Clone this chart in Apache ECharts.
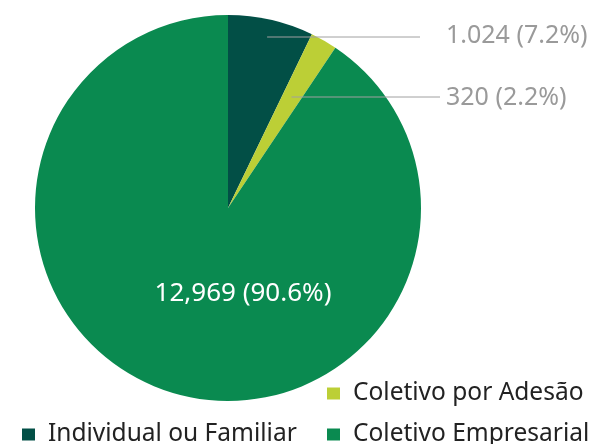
<!DOCTYPE html>
<html>
<head>
    <meta charset="utf-8">
    <script src="https://cdn.jsdelivr.net/npm/echarts@6/dist/echarts.min.js"></script>
</head>
<body style="margin:0">
    <div id="main" style="width:598px; height:444px"></div>
    <script type="text/javascript">
        // data
        var categories = ['Individual ou Familiar', 'Coletivo por Adesão', 'Coletivo Empresarial'];
        var values = [1024, 320, 12969];
        var valueText = ['1.024', '320', '12,969'];
        var colors = ['#024f46', '#bccf36', '#0a8a50'];

        var cx = 228, cy = 208, radius = 193;
        var font = 'Noto Sans';
        var total = values.reduce(function (a, b) { return a + b; }, 0);

        // mid angle of each slice, clockwise from the top
        var midAngle = [];
        var cum = 0;
        for (var i = 0; i < values.length; i++) {
            midAngle.push((cum + values[i] / 2) / total * 2 * Math.PI);
            cum += values[i];
        }

        // label placement: y of the leader line, y of the text, where the line ends
        var lineY = [37, 97];
        var textY = [36, 98, 294];
        var lineEnd = [420, 440];

        var myChart = echarts.init(document.getElementById('main'));

        function legendAt(name, left, top) {
            return {
                data: [name],
                left: left,
                top: top,
                icon: 'rect',
                itemWidth: 13,
                itemHeight: 12,
                padding: 0,
                selectedMode: false,
                textStyle: {
                    fontFamily: font,
                    fontSize: 24.5,
                    color: '#222',
                    padding: [0, 0, 0, 8]
                }
            };
        }

        var pieData = categories.map(function (c, i) {
            var inside = i === 2;
            return {
                name: c,
                value: values[i],
                label: {
                    position: inside ? 'inside' : 'outside',
                    color: inside ? '#fff' : '#9a9a9a',
                    fontSize: inside ? 26 : 25
                },
                labelLine: { show: !inside }
            };
        });

        var option = {
            animation: false,
            color: colors,
            legend: [
                legendAt(categories[1], 327, 381),
                legendAt(categories[0], 22, 422),
                legendAt(categories[2], 327, 422)
            ],
            series: [{
                // the slices
                type: 'pie',
                center: [cx, cy],
                radius: radius,
                startAngle: 90,
                label: { show: false },
                labelLine: { show: false },
                data: pieData.map(function (d) { return { name: d.name, value: d.value }; })
            }, {
                // same slices again, invisible, so the leader lines sit on top
                type: 'pie',
                z: 3,
                center: [cx, cy],
                radius: radius,
                startAngle: 90,
                silent: true,
                itemStyle: { color: 'rgba(0,0,0,0)' },
                data: pieData,
                label: {
                    fontFamily: font,
                    formatter: function (p) {
                        return valueText[p.dataIndex] + ' (' + p.percent.toFixed(1) + '%)';
                    }
                },
                labelLine: {
                    lineStyle: { color: '#a0a0a0', width: 1 }
                },
                labelLayout: function (p) {
                    var i = p.dataIndex;
                    if (i === 2) {
                        return { x: 243, y: textY[i], align: 'center', verticalAlign: 'middle' };
                    }
                    var y = lineY[i];
                    var x0 = cx + (cy - y) * Math.tan(midAngle[i]);
                    return {
                        x: 446,
                        y: textY[i],
                        align: 'left',
                        verticalAlign: 'middle',
                        labelLinePoints: [[x0, y], [lineEnd[i], y], [lineEnd[i], y]]
                    };
                }
            }]
        };
        myChart.setOption(option);
    </script>
</body>
</html>
